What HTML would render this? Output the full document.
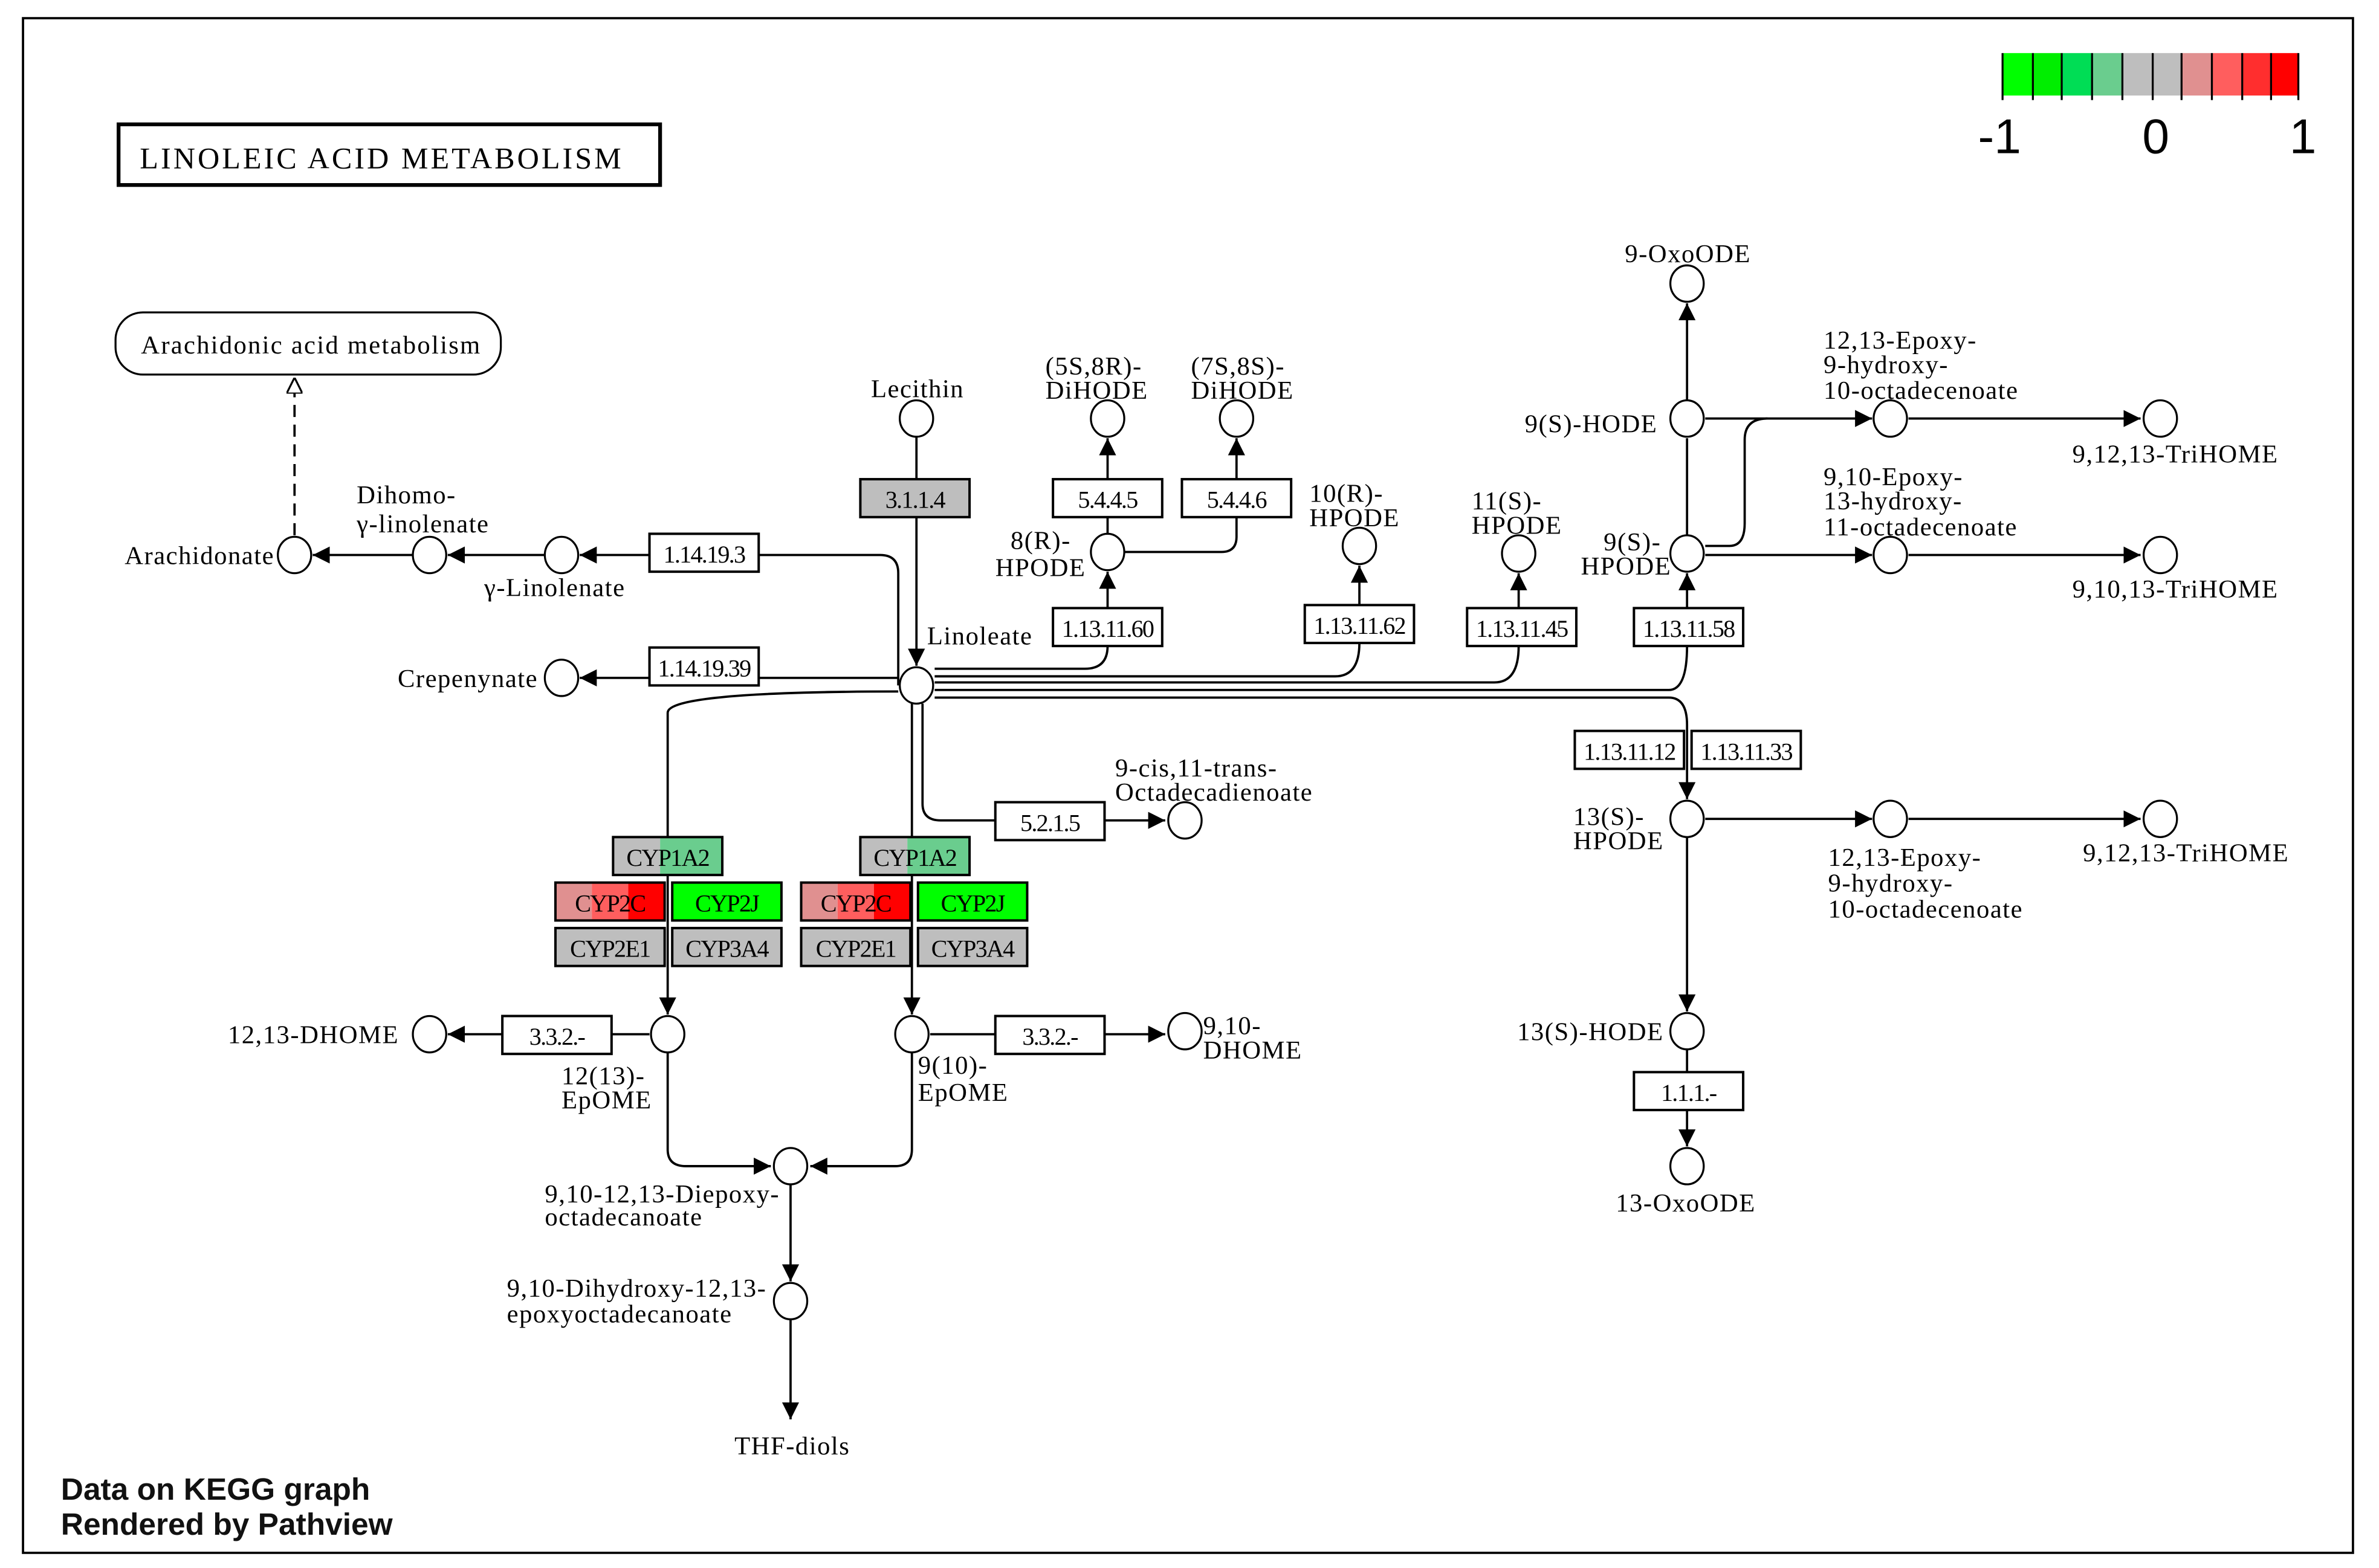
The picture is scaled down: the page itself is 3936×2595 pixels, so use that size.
<!DOCTYPE html>
<html><head><meta charset="utf-8"><style>
html,body{margin:0;padding:0;background:#fff}
svg{display:block}
text{font-family:"Liberation Serif",serif;font-size:17px;fill:#000;letter-spacing:0.6px}
.b text{font-size:16px;letter-spacing:-0.7px}
</style></head><body>
<svg width="3936" height="2595" viewBox="0 0 1568 1034" xmlns="http://www.w3.org/2000/svg">
<defs>
<marker id="a" viewBox="0 0 10 10" refX="10" refY="5" markerWidth="7.5" markerHeight="7.5" orient="auto"><path d="M0,0L10,5L0,10z" fill="#000"/></marker>
<marker id="h" viewBox="0 0 10 10" refX="10" refY="5" markerWidth="7" markerHeight="7" orient="auto"><path d="M0,0L10,5L0,10z" fill="#fff" stroke="#000" stroke-width="1.2"/></marker>
</defs>
<rect x="0" y="0" width="1568" height="1034" fill="#fff"/>
<rect x="15" y="12" width="1536" height="1012" fill="none" stroke="#000" stroke-width="1.5"/>
<g>
<rect x="1320" y="35" width="20" height="28" fill="#00ff00"/>
<rect x="1340" y="35" width="19" height="28" fill="#00ee00"/>
<rect x="1359" y="35" width="20" height="28" fill="#00dd55"/>
<rect x="1379" y="35" width="20" height="28" fill="#6acd8e"/>
<rect x="1399" y="35" width="20" height="28" fill="#bebebe"/>
<rect x="1419" y="35" width="19" height="28" fill="#bebebe"/>
<rect x="1438" y="35" width="20" height="28" fill="#e09090"/>
<rect x="1458" y="35" width="20" height="28" fill="#ff5e5e"/>
<rect x="1478" y="35" width="19" height="28" fill="#ff2e2e"/>
<rect x="1497" y="35" width="18" height="28" fill="#ff0000"/>
<g stroke="#000" stroke-width="1.3">
<line x1="1320" y1="35" x2="1320" y2="66"/><line x1="1340" y1="35" x2="1340" y2="66"/><line x1="1359" y1="35" x2="1359" y2="66"/><line x1="1379" y1="35" x2="1379" y2="66"/><line x1="1399" y1="35" x2="1399" y2="66"/><line x1="1419" y1="35" x2="1419" y2="66"/><line x1="1438" y1="35" x2="1438" y2="66"/><line x1="1458" y1="35" x2="1458" y2="66"/><line x1="1478" y1="35" x2="1478" y2="66"/><line x1="1497" y1="35" x2="1497" y2="66"/><line x1="1515" y1="35" x2="1515" y2="66"/>
</g>
<text x="1318" y="101" text-anchor="middle" style="font-family:'Liberation Sans',sans-serif;font-size:32px;letter-spacing:0">-1</text>
<text x="1421" y="101" text-anchor="middle" style="font-family:'Liberation Sans',sans-serif;font-size:32px;letter-spacing:0">0</text>
<text x="1518" y="101" text-anchor="middle" style="font-family:'Liberation Sans',sans-serif;font-size:32px;letter-spacing:0">1</text>
</g>
<rect x="78" y="82" width="357" height="40" fill="#fff" stroke="#000" stroke-width="2.5"/>
<text x="92" y="111" style="font-size:20px;letter-spacing:1.6px">LINOLEIC  ACID  METABOLISM</text>
<rect x="76" y="206" width="254" height="41" rx="18" fill="#fff" stroke="#000" stroke-width="1.3"/>
<text x="205" y="233" text-anchor="middle" style="font-size:17px;letter-spacing:0.9px">Arachidonic acid metabolism</text>
<g fill="none" stroke="#000" stroke-width="1.5">
<line x1="194" y1="353" x2="194" y2="249" stroke-dasharray="8,5" marker-end="url(#h)"/>
<line x1="272" y1="366" x2="206" y2="366" marker-end="url(#a)"/>
<line x1="359" y1="366" x2="295" y2="366" marker-end="url(#a)"/>
<path d="M592,452 L592,378 Q592,366 580,366 L500,366"/>
<line x1="428" y1="366" x2="382" y2="366" marker-end="url(#a)"/>
<line x1="592" y1="447" x2="500" y2="447"/>
<line x1="428" y1="447" x2="382" y2="447" marker-end="url(#a)"/>
<line x1="604" y1="288" x2="604" y2="316"/>
<line x1="604" y1="341" x2="604" y2="439" marker-end="url(#a)"/>
<path d="M730,401 L730,377" marker-end="url(#a)"/>
<path d="M730,426 Q730,441 715,441 L616,441"/>
<path d="M730,352 L730,341"/>
<path d="M730,316 L730,289" marker-end="url(#a)"/>
<path d="M741,364 L805,364 Q815,364 815,354 L815,341"/>
<path d="M815,316 L815,289" marker-end="url(#a)"/>
<path d="M896,399 L896,373" marker-end="url(#a)"/>
<path d="M896,424 Q896,446 880,446 L616,446"/>
<path d="M1001,401 L1001,378" marker-end="url(#a)"/>
<path d="M1001,426 Q1001,450 985,450 L616,450"/>
<path d="M1112,401 L1112,378" marker-end="url(#a)"/>
<path d="M1112,426 Q1112,455 1100,455 L616,455"/>
<path d="M616,460 L1100,460 Q1112,460 1112,478 L1112,527" marker-end="url(#a)"/>
<path d="M1112,353 L1112,289"/>
<path d="M1112,264 L1112,200" marker-end="url(#a)"/>
<path d="M1124,276 L1234,276" marker-end="url(#a)"/>
<path d="M1258,276 L1411,276" marker-end="url(#a)"/>
<path d="M1124,360 L1140,360 Q1150,360 1150,345 L1150,290 Q1150,276 1165,276"/>
<path d="M1124,366 L1234,366" marker-end="url(#a)"/>
<path d="M1258,366 L1411,366" marker-end="url(#a)"/>
<path d="M1124,540 L1234,540" marker-end="url(#a)"/>
<path d="M1258,540 L1411,540" marker-end="url(#a)"/>
<path d="M1112,552 L1112,667" marker-end="url(#a)"/>
<path d="M1112,692 L1112,707"/>
<path d="M1112,732 L1112,756" marker-end="url(#a)"/>
<path d="M608,464 L608,530 Q608,541 620,541 L656,541"/>
<path d="M728,541 L768,541" marker-end="url(#a)"/>
<path d="M592,456 Q440,456 440,470 L440,552"/>
<path d="M440,577 L440,669" marker-end="url(#a)"/>
<path d="M601,464 L601,552"/>
<path d="M601,577 L601,669" marker-end="url(#a)"/>
<path d="M428,682 L403,682"/>
<path d="M331,682 L295,682" marker-end="url(#a)"/>
<path d="M613,682 L656,682"/>
<path d="M728,682 L768,682" marker-end="url(#a)"/>
<path d="M440,694 L440,758 Q440,769 452,769 L508,769" marker-end="url(#a)"/>
<path d="M601,694 L601,758 Q601,769 590,769 L534,769" marker-end="url(#a)"/>
<path d="M521,781 L521,845" marker-end="url(#a)"/>
<path d="M521,870 L521,936" marker-end="url(#a)"/>
</g>
<g fill="#fff" stroke="#000" stroke-width="1.3">
<ellipse cx="194" cy="366" rx="11" ry="12"/><ellipse cx="283" cy="366" rx="11" ry="12"/><ellipse cx="370" cy="366" rx="11" ry="12"/>
<ellipse cx="370" cy="447" rx="11" ry="12"/><ellipse cx="604" cy="276" rx="11" ry="12"/><ellipse cx="604" cy="452" rx="11" ry="12"/>
<ellipse cx="730" cy="364" rx="11" ry="12"/><ellipse cx="730" cy="276" rx="11" ry="12"/><ellipse cx="815" cy="276" rx="11" ry="12"/>
<ellipse cx="896" cy="360" rx="11" ry="12"/><ellipse cx="1001" cy="365" rx="11" ry="12"/>
<ellipse cx="1112" cy="187" rx="11" ry="12"/><ellipse cx="1112" cy="276" rx="11" ry="12"/><ellipse cx="1112" cy="365" rx="11" ry="12"/>
<ellipse cx="1246" cy="276" rx="11" ry="12"/><ellipse cx="1424" cy="276" rx="11" ry="12"/>
<ellipse cx="1246" cy="366" rx="11" ry="12"/><ellipse cx="1424" cy="366" rx="11" ry="12"/>
<ellipse cx="1112" cy="540" rx="11" ry="12"/><ellipse cx="1246" cy="540" rx="11" ry="12"/><ellipse cx="1424" cy="540" rx="11" ry="12"/>
<ellipse cx="1112" cy="680" rx="11" ry="12"/><ellipse cx="1112" cy="769" rx="11" ry="12"/>
<ellipse cx="781" cy="541" rx="11" ry="12"/><ellipse cx="440" cy="682" rx="11" ry="12"/><ellipse cx="283" cy="682" rx="11" ry="12"/>
<ellipse cx="601" cy="682" rx="11" ry="12"/><ellipse cx="781" cy="680" rx="11" ry="12"/>
<ellipse cx="521" cy="769" rx="11" ry="12"/><ellipse cx="521" cy="858" rx="11" ry="12"/>
</g>
<g stroke="#000" stroke-width="1.6" fill="#fff">
<rect x="428" y="352" width="72" height="25"/>
<rect x="567" y="316" width="72" height="25" fill="#bebebe"/>
<rect x="428" y="427" width="72" height="25"/>
<rect x="694" y="316" width="72" height="25"/>
<rect x="779" y="316" width="72" height="25"/>
<rect x="694" y="401" width="72" height="25"/>
<rect x="860" y="399" width="72" height="25"/>
<rect x="967" y="401" width="72" height="25"/>
<rect x="1077" y="401" width="72" height="25"/>
<rect x="1038" y="482" width="72" height="25"/>
<rect x="1115" y="482" width="72" height="25"/>
<rect x="656" y="529" width="72" height="25"/>
<rect x="331" y="670" width="72" height="25"/>
<rect x="656" y="670" width="72" height="25"/>
<rect x="1077" y="707" width="72" height="25"/>
</g>
<g class="b" text-anchor="middle">
<text x="464" y="371">1.14.19.3</text><text x="603" y="335">3.1.1.4</text><text x="464" y="446">1.14.19.39</text>
<text x="730" y="335">5.4.4.5</text><text x="815" y="335">5.4.4.6</text>
<text x="730" y="420">1.13.11.60</text><text x="896" y="418">1.13.11.62</text><text x="1003" y="420">1.13.11.45</text><text x="1113" y="420">1.13.11.58</text>
<text x="1074" y="501">1.13.11.12</text><text x="1151" y="501">1.13.11.33</text><text x="692" y="548">5.2.1.5</text>
<text x="367" y="689">3.3.2.-</text><text x="692" y="689">3.3.2.-</text><text x="1113" y="726">1.1.1.-</text>
</g>
<g stroke="none">
<rect x="404" y="552" width="31" height="25" fill="#bebebe"/><rect x="435" y="552" width="41" height="25" fill="#6acd8e"/>
<rect x="366" y="582" width="24" height="25" fill="#e09090"/><rect x="390" y="582" width="24" height="25" fill="#ff5e5e"/><rect x="414" y="582" width="24" height="25" fill="#ff0000"/>
<rect x="443" y="582" width="72" height="25" fill="#00ff00"/>
<rect x="366" y="612" width="72" height="25" fill="#bebebe"/><rect x="443" y="612" width="72" height="25" fill="#bebebe"/>
<rect x="567" y="552" width="31" height="25" fill="#bebebe"/><rect x="598" y="552" width="41" height="25" fill="#6acd8e"/>
<rect x="528" y="582" width="24" height="25" fill="#e09090"/><rect x="552" y="582" width="24" height="25" fill="#ff5e5e"/><rect x="576" y="582" width="24" height="25" fill="#ff0000"/>
<rect x="605" y="582" width="72" height="25" fill="#00ff00"/>
<rect x="528" y="612" width="72" height="25" fill="#bebebe"/><rect x="605" y="612" width="72" height="25" fill="#bebebe"/>
</g>
<g fill="none" stroke="#000" stroke-width="1.6">
<rect x="404" y="552" width="72" height="25"/><rect x="366" y="582" width="72" height="25"/><rect x="443" y="582" width="72" height="25"/><rect x="366" y="612" width="72" height="25"/><rect x="443" y="612" width="72" height="25"/>
<rect x="567" y="552" width="72" height="25"/><rect x="528" y="582" width="72" height="25"/><rect x="605" y="582" width="72" height="25"/><rect x="528" y="612" width="72" height="25"/><rect x="605" y="612" width="72" height="25"/>
</g>
<g class="b" text-anchor="middle">
<text x="440" y="571">CYP1A2</text><text x="402" y="601">CYP2C</text><text x="479" y="601">CYP2J</text><text x="402" y="631">CYP2E1</text><text x="479" y="631">CYP3A4</text>
<text x="603" y="571">CYP1A2</text><text x="564" y="601">CYP2C</text><text x="641" y="601">CYP2J</text><text x="564" y="631">CYP2E1</text><text x="641" y="631">CYP3A4</text>
</g>
<text x="82" y="372">Arachidonate</text>
<text x="235" y="332">Dihomo-</text><text x="235" y="351">γ-linolenate</text>
<text x="319" y="393">γ-Linolenate</text>
<text x="262" y="453">Crepenynate</text>
<text x="574" y="262">Lecithin</text>
<text x="611" y="425">Linoleate</text>
<text x="689" y="247">(5S,8R)-</text><text x="689" y="263">DiHODE</text>
<text x="785" y="247">(7S,8S)-</text><text x="785" y="263">DiHODE</text>
<text x="666" y="362">8(R)-</text><text x="656" y="380">HPODE</text>
<text x="863" y="331">10(R)-</text><text x="863" y="347">HPODE</text>
<text x="970" y="336">11(S)-</text><text x="970" y="352">HPODE</text>
<text x="1071" y="173">9-OxoODE</text>
<text x="1005" y="285">9(S)-HODE</text>
<text x="1057" y="363">9(S)-</text><text x="1042" y="379">HPODE</text>
<text x="1202" y="230">12,13-Epoxy-</text><text x="1202" y="246">9-hydroxy-</text><text x="1202" y="263">10-octadecenoate</text>
<text x="1366" y="305">9,12,13-TriHOME</text>
<text x="1202" y="320">9,10-Epoxy-</text><text x="1202" y="336">13-hydroxy-</text><text x="1202" y="353">11-octadecenoate</text>
<text x="1366" y="394">9,10,13-TriHOME</text>
<text x="1037" y="544">13(S)-</text><text x="1037" y="560">HPODE</text>
<text x="1205" y="571">12,13-Epoxy-</text><text x="1205" y="588">9-hydroxy-</text><text x="1205" y="605">10-octadecenoate</text>
<text x="1373" y="568">9,12,13-TriHOME</text>
<text x="1000" y="686">13(S)-HODE</text>
<text x="1065" y="799">13-OxoODE</text>
<text x="735" y="512">9-cis,11-trans-</text><text x="735" y="528">Octadecadienoate</text>
<text x="150" y="688">12,13-DHOME</text>
<text x="370" y="715">12(13)-</text><text x="370" y="731">EpOME</text>
<text x="605" y="708">9(10)-</text><text x="605" y="726">EpOME</text>
<text x="793" y="682">9,10-</text><text x="793" y="698">DHOME</text>
<text x="359" y="793">9,10-12,13-Diepoxy-</text><text x="359" y="808">octadecanoate</text>
<text x="334" y="855">9,10-Dihydroxy-12,13-</text><text x="334" y="872">epoxyoctadecanoate</text>
<text x="484" y="959">THF-diols</text>
<text x="40" y="989" style="font-family:'Liberation Sans',sans-serif;font-weight:bold;font-size:20.5px;letter-spacing:0;fill:#111">Data on KEGG graph</text>
<text x="40" y="1012" style="font-family:'Liberation Sans',sans-serif;font-weight:bold;font-size:20.5px;letter-spacing:0;fill:#111">Rendered by Pathview</text>
</svg>
</body></html>
